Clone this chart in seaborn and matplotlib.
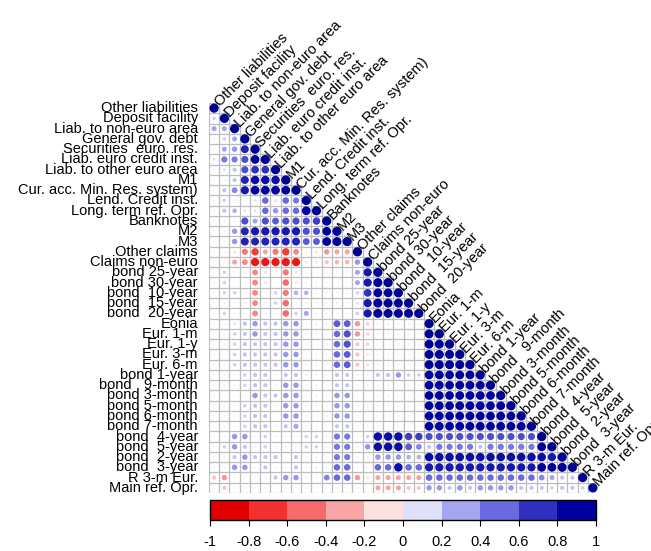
import numpy as np
import pandas as pd
import matplotlib
matplotlib.use("Agg")
import matplotlib.pyplot as plt
import seaborn as sns
from matplotlib.colors import LinearSegmentedColormap, ListedColormap, BoundaryNorm

# variable names (same order for rows and columns)
labels = [
    "Other liabilities", "Deposit facility", "Liab. to non-euro area", "General gov. debt",
    "Securities  euro. res.", "Liab. euro credit inst.", "Liab. to other euro area", "M1",
    "Cur. acc. Min. Res. system)", "Lend. Credit inst.", "Long. term ref. Opr.", "Banknotes",
    "M2", "M3", "Other claims", "Claims non-euro", "bond 25-year", "bond 30-year",
    "bond  10-year", "bond  15-year", "bond  20-year", "Eonia", "Eur. 1-m", "Eur. 1-y",
    "Eur. 3-m", "Eur. 6-m", "bond 1-year", "bond   9-month", "bond 3-month", "bond 5-month",
    "bond 6-month", "bond 7-month", "bond  4-year", "bond  5-year", "bond  2-year",
    "bond  3-year", "R 3-m Eur.", "Main ref. Opr.",
]

# lower triangle of the correlation matrix
rows = [
    [1],
    [0.15, 1],
    [0.3, 0.3, 1],
    [0.05, 0.15, 0.3, 1],
    [0.05, 0.3, 0.35, 0.75, 1],
    [0.1, 0.45, 0.45, 0.6, 0.9, 1],
    [0.05, 0.1, 0.2, 0.6, 0.7, 0.7, 1],
    [0.05, 0.05, 0.2, 0.75, 0.85, 0.85, 0.85, 1],
    [0.05, 0.2, 0.4, 0.8, 0.9, 0.9, 0.9, 0.9, 1],
    [0.05, 0.15, 0.05, 0.05, 0.1, 0.5, 0.1, 0.5, 0.45, 1],
    [0.05, 0.2, 0.25, 0.1, 0.1, 0.5, 0.35, 0.5, 0.5, 0.9, 1],
    [0.05, 0.05, 0.05, 0.6, 0.3, 0.6, 0.55, 0.6, 0.6, 0.6, 0.65, 1],
    [0.05, 0.05, 0.35, 0.75, 0.8, 0.8, 0.8, 0.8, 0.8, 0.6, 0.6, 0.9, 1],
    [0.05, 0.05, 0.35, 0.75, 0.75, 0.75, 0.75, 0.75, 0.75, 0.55, 0.55, 0.9, 0.95, 1],
    [0.05, 0.05, -0.1, -0.45, -0.65, -0.3, -0.45, -0.65, -0.4, -0.05, -0.1, -0.35, -0.3, -0.3, 1],
    [-0.05, -0.05, -0.3, -0.4, -0.8, -0.8, -0.8, -0.8, -0.8, -0.1, -0.1, -0.2, -0.25, -0.25, 0.35, 1],
    [0.05, 0.15, 0.05, 0.05, -0.4, -0.1, 0.05, -0.45, -0.1, 0.05, 0.05, -0.05, -0.05, -0.05, 0.3, 0.8, 1],
    [0.05, 0.15, 0.05, 0.05, -0.4, -0.1, 0.05, -0.5, -0.1, 0.05, 0.05, -0.05, -0.05, -0.05, 0.3, 0.8, 0.95, 1],
    [0.05, 0.15, 0.15, 0.05, -0.4, -0.05, 0.15, -0.45, 0.25, 0.25, 0.05, 0.05, 0.05, 0.05, 0.15, 0.7, 0.9, 0.9, 1],
    [0.05, 0.05, 0.05, 0.05, -0.4, 0.05, 0.15, -0.5, 0.05, 0.05, 0.05, 0.05, 0.05, 0.05, 0.1, 0.8, 0.95, 0.95, 0.95, 1],
    [0.05, 0.15, 0.05, 0.05, -0.4, 0.05, 0.05, -0.5, 0.15, 0.3, 0.05, 0.05, 0.05, 0.05, 0.15, 0.8, 0.95, 0.95, 0.95, 0.95, 1],
    [0.05, 0.05, 0.1, 0.2, 0.35, 0.2, 0.2, 0.35, 0.35, 0.05, 0.05, 0.05, 0.55, 0.55, -0.35, -0.15,
     0.05, 0.05, 0.05, 0.05, 0.05, 1],
    [0.05, 0.05, 0.15, 0.2, 0.35, 0.2, 0.2, 0.35, 0.35, 0.05, 0.05, 0.05, 0.5, 0.6, -0.35, -0.15,
     0.05, 0.05, 0.05, 0.05, 0.05, 0.95, 1],
    [0.05, 0.05, 0.15, 0.2, 0.2, 0.2, 0.2, 0.35, 0.35, 0.05, 0.05, 0.05, 0.5, 0.6, -0.2, -0.15,
     0.05, 0.05, 0.05, 0.05, 0.05, 0.95, 0.95, 1],
    [0.05, 0.05, 0.15, 0.2, 0.2, 0.2, 0.2, 0.35, 0.35, 0.05, 0.05, 0.05, 0.5, 0.55, -0.2, -0.1,
     0.05, 0.05, 0.05, 0.05, 0.05, 0.95, 0.95, 0.95, 1],
    [0.05, 0.05, 0.15, 0.2, 0.2, 0.2, 0.2, 0.35, 0.35, 0.05, 0.05, 0.05, 0.5, 0.55, -0.2, -0.1,
     0.05, 0.05, 0.05, 0.05, 0.05, 0.95, 0.95, 0.95, 0.95, 1],
    [0.05, 0.05, 0.05, 0.15, 0.2, 0.2, 0.05, 0.2, 0.2, 0.05, 0.05, 0.05, 0.2, 0.2, 0.05, 0.05,
     0.2, 0.2, 0.35, 0.15, 0.15, 0.9, 0.9, 0.9, 0.9, 0.9, 1],
    [0.05, 0.05, 0.05, 0.15, 0.2, 0.2, 0.05, 0.35, 0.35, 0.05, 0.05, 0.05, 0.2, 0.2, 0.05, 0.05,
     0.05, 0.05, 0.05, 0.05, 0.05, 0.9, 0.9, 0.9, 0.9, 0.9, 0.9, 1],
    [0.05, 0.05, 0.05, 0.05, 0.35, 0.2, 0.2, 0.35, 0.35, 0.05, 0.05, 0.05, 0.35, 0.35, 0.05, 0.05,
     0.05, 0.05, 0.05, 0.05, 0.05, 0.9, 0.9, 0.9, 0.9, 0.9, 0.9, 0.9, 1],
    [0.05, 0.05, 0.05, 0.15, 0.2, 0.2, 0.05, 0.35, 0.35, 0.05, 0.05, 0.05, 0.35, 0.35, 0.05, 0.05,
     0.05, 0.05, 0.05, 0.05, 0.05, 0.9, 0.9, 0.9, 0.9, 0.9, 0.9, 0.9, 0.9, 1],
    [0.05, 0.05, 0.05, 0.15, 0.2, 0.2, 0.05, 0.35, 0.35, 0.05, 0.05, 0.05, 0.35, 0.35, 0.05, 0.05,
     0.05, 0.05, 0.05, 0.05, 0.05, 0.9, 0.9, 0.9, 0.9, 0.9, 0.9, 0.9, 0.9, 0.9, 1],
    [0.05, 0.05, 0.05, 0.15, 0.2, 0.2, 0.05, 0.2, 0.3, 0.05, 0.05, 0.05, 0.2, 0.2, 0.05, 0.05,
     0.05, 0.05, 0.05, 0.05, 0.05, 0.9, 0.9, 0.9, 0.9, 0.9, 0.9, 0.9, 0.9, 0.9, 0.9, 1],
    [0.05, 0.05, 0.35, 0.35, 0.05, 0.15, 0.05, 0.05, 0.05, 0.15, 0.15, 0.05, 0.45, 0.45, 0.05, 0.15,
     0.85, 0.85, 0.85, 0.65, 0.65, 0.6, 0.6, 0.6, 0.6, 0.6, 0.6, 0.6, 0.6, 0.6, 0.6, 0.6, 1],
    [0.05, 0.15, 0.35, 0.2, 0.05, 0.15, 0.05, 0.05, 0.05, 0.15, 0.15, 0.05, 0.45, 0.45, 0.05, 0.35,
     0.85, 0.85, 0.85, 0.55, 0.4, 0.2, 0.45, 0.45, 0.45, 0.45, 0.2, 0.45, 0.45, 0.45, 0.45, 0.45, 0.9, 1],
    [0.05, 0.05, 0.2, 0.35, 0.2, 0.2, 0.2, 0.05, 0.2, 0.05, 0.05, 0.05, 0.45, 0.45, 0.05, 0.05,
     0.35, 0.35, 0.35, 0.25, 0.25, 0.85, 0.85, 0.85, 0.85, 0.85, 0.85, 0.85, 0.85, 0.85, 0.85, 0.85,
     0.85, 0.8, 1],
    [0.05, 0.05, 0.35, 0.35, 0.05, 0.2, 0.05, 0.05, 0.2, 0.05, 0.05, 0.05, 0.5, 0.5, 0.05, 0.05,
     0.5, 0.5, 0.85, 0.5, 0.5, 0.8, 0.8, 0.8, 0.8, 0.8, 0.8, 0.8, 0.8, 0.8, 0.8, 0.8,
     0.9, 0.9, 0.95, 1],
    [-0.2, -0.35, -0.05, -0.05, -0.05, 0.05, 0.2, 0.35, 0.35, 0.05, 0.05, 0.4, 0.5, 0.5, -0.35, -0.1,
     -0.3, -0.3, -0.3, -0.3, -0.3, 0.5, 0.5, 0.5, 0.5, 0.5, 0.5, 0.5, 0.5, 0.5, 0.5, 0.5,
     0.4, 0.3, 0.2, 0.2, 1],
    [-0.05, -0.2, -0.05, -0.05, -0.05, -0.05, -0.05, -0.05, -0.05, -0.05, -0.05, -0.05, -0.05, -0.05, -0.05, -0.05,
     -0.3, -0.3, -0.3, -0.2, -0.2, 0.35, 0.35, 0.2, 0.35, 0.2, 0.35, 0.35, 0.35, 0.35, 0.2, 0.2,
     0.2, 0.15, 0.2, 0.2, 0.15, 1],
]

# colour bar bins (-1..1 in steps of 0.2)
bar_colors = ["#E00000", "#F23030", "#F56A6A", "#F9A5A5", "#FDE0E0",
              "#E0E0FA", "#A5A5F0", "#6A6AE0", "#3030C0", "#0000A0"]
bar_ticks = ["-1", "-0.8", "-0.6", "-0.4", "-0.2", "0", "0.2", "0.4", "0.6", "0.8", "1"]

n = len(labels)
corr = np.full((n, n), np.nan)
for i, r in enumerate(rows):
    corr[i, :len(r)] = r

dot_cmap = LinearSegmentedColormap.from_list("rwb", [
    (0.0, "#C80000"), (0.05, "#E00000"), (0.15, "#F23030"), (0.25, "#F56A6A"),
    (0.35, "#F9A5A5"), (0.45, "#FDE0E0"), (0.5, "#FFFFFF"), (0.55, "#E0E0FA"),
    (0.65, "#A5A5F0"), (0.75, "#6A6AE0"), (0.85, "#3030C0"), (0.95, "#0000A0"),
    (1.0, "#000090"),
])

sns.set_theme(style="white")
plt.rcParams['font.family'] = ['Liberation Sans', 'DejaVu Sans']

fig = plt.figure(figsize=(6.51, 5.51), dpi=100)
ax = fig.add_axes([209 / 651, 1 - 493 / 551, 389 / 651, 390 / 551])

# white cells for the lower triangle (labels come from here too)
sns.heatmap(np.zeros((n, n)), mask=np.isnan(corr), cmap=ListedColormap(["white"]),
            cbar=False, linewidths=0, xticklabels=False, yticklabels=labels, ax=ax)

# grey cell borders, lower triangle only
grid_kw = dict(colors="#bdbdbd", linewidth=0.9, zorder=1)
for k in range(n + 1):
    ax.hlines(k, 0, min(k + 1, n), **grid_kw)
    ax.vlines(k, max(k - 1, 0), n, **grid_kw)

ii, jj = np.tril_indices(n)
df = pd.DataFrame({"x": jj + 0.5, "y": ii + 0.5, "r": corr[ii, jj]})
df["size"] = df["r"].abs()
sns.scatterplot(data=df, x="x", y="y", hue="r", size="size", palette=dot_cmap,
                hue_norm=(-1, 1), sizes=(0, 44), size_norm=(0, 1),
                linewidth=0, legend=False, zorder=3, ax=ax)

ax.set_xlim(0, n)
ax.set_ylim(n, 0)
ax.set_xlabel("")
ax.set_ylabel("")
ax.set_yticks(np.arange(n) + 0.5)
ax.set_yticklabels(labels, rotation=0, fontsize=10.5, color="black")
ax.tick_params(axis="y", length=0, pad=8)

# column labels along the diagonal
for j, lab in enumerate(labels):
    ax.text(j + 0.8, j + 0.15, lab, rotation=45, rotation_mode="anchor",
            ha="left", va="center", fontsize=10.5, color="black", clip_on=False)

# discrete colour legend
cax = fig.add_axes([210 / 651, 1 - 520 / 551, 386 / 651, 20 / 551])
bounds = np.linspace(-1, 1, 11)
cb_cmap = ListedColormap(bar_colors)
sm = plt.cm.ScalarMappable(norm=BoundaryNorm(bounds, cb_cmap.N), cmap=cb_cmap)
cb = fig.colorbar(sm, cax=cax, orientation="horizontal", ticks=bounds)
cb.ax.set_xticklabels(bar_ticks)
cb.ax.tick_params(length=4, width=0.8, labelsize=10.5, pad=7, colors="black")
cb.outline.set_linewidth(1)
cb.outline.set_edgecolor("black")

fig.savefig("out.png", dpi=100)
